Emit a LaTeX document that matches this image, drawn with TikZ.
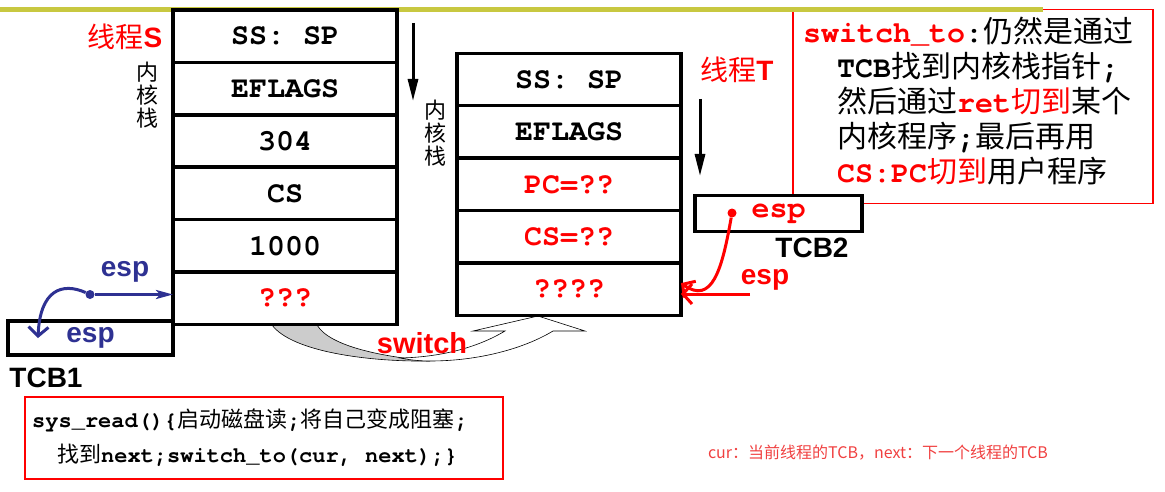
\documentclass[tikz,border=0pt]{standalone}
\usepackage{fontspec}
\setmainfont{Liberation Sans}
\setmonofont[Extension=.otf,UprightFont=*-regular,BoldFont=*-bold]{texgyrecursor}
\newfontfamily\cjk{Noto Sans CJK SC}
\usepackage{xcolor}
\usepackage{tikz}
\usetikzlibrary{arrows.meta,positioning}

\definecolor{barolive}{RGB}{200,200,64}
\definecolor{espblue}{RGB}{46,49,146}
\definecolor{notered}{RGB}{240,64,64}
\newcommand{\pxsize}[1]{\fontsize{#1}{#1}\selectfont}
\newcommand{\zh}[1]{{\cjk\mdseries #1}}

\begin{document}
\begin{tikzpicture}[
    x=1pt, y=-1pt,
    % 栈的每一格
    cell/.style={
        draw, line width=3.5pt, outer sep=0pt, inner sep=0pt,
        minimum width=224pt, minimum height=52.4pt,
        font=\pxsize{30}\ttfamily\bfseries},
    tcbbox/.style={
        draw, fill=white, line width=3.5pt, outer sep=0pt, inner sep=0pt,
        minimum width=166pt, minimum height=35pt},
    redframe/.style={draw=red, line width=1.3pt, inner sep=0pt},
    tcbname/.style={font=\pxsize{28}\bfseries},
    stacklabel/.style={align=center, font=\cjk\fontsize{22}{23}\selectfont},
    dot/.style={circle, fill, inner sep=0pt, minimum size=9pt},
    growth/.style={line width=3pt, -{Triangle[length=22pt,width=10pt]}},
    blueline/.style={espblue, line width=3pt},
    redline/.style={red, line width=3pt, -{Straight Barb[length=9pt,width=20pt]}}
  ]
  \useasboundingbox (0,0) rectangle (1165,492);

  % 右上角说明框
  \node (notebox) [redframe, minimum width=360pt, minimum height=194pt] at (973,106.5) {};
  \node (notetext) [anchor=north west, align=left, inner sep=0pt,
    font=\fontsize{30}{35}\selectfont] at (803,17) {%
    {\color{red}\ttfamily\bfseries switch\_to}{\ttfamily\bfseries :}\zh{仍然是通过}\\
    \hspace*{34pt}{\ttfamily\bfseries TCB}\zh{找到内核栈指针}{\ttfamily\bfseries ;}\\
    \hspace*{34pt}\zh{然后通过}{\color{red}\ttfamily\bfseries ret\zh{切到}}\zh{某个}\\
    \hspace*{34pt}\zh{内核程序}{\ttfamily\bfseries ;}\zh{最后再用}\\
    \hspace*{34pt}{\color{red}\ttfamily\bfseries CS:PC\zh{切到}}\zh{用户程序}};

  \coordinate (barL) at (0,10);
  \coordinate (barR) at (1043,10);
  \draw [barolive, line width=5pt] (barL) -- (barR);

  % switch 弯箭头
  \draw [black, line width=0.6pt, fill=black!20]
    (272,325) .. controls (292,352) and (370,362) .. (430,361)
    .. controls (385,357) and (330,347) .. (317,325) -- cycle;
  \draw [black, line width=0.6pt, fill=white]
    (430,361) .. controls (480,361) and (525,348) .. (553,331)
    -- (585,331) -- (538,316) -- (473,331) -- (505,331)
    .. controls (480,346) and (445,357) .. (400,358)
    .. controls (410,360) and (420,361) .. (430,361) -- cycle;
  \node (sw) [text=red, font=\pxsize{29}\bfseries] at (422,343) {switch};

  % 线程S的内核栈
  \node (s1) [cell] at (285,36.2) {SS: SP};
  \node (s2) [cell,below=0pt of s1] {EFLAGS};
  \node (s3) [cell,below=0pt of s2] {304};
  \node (s4) [cell,below=0pt of s3] {CS};
  \node (s5) [cell,below=0pt of s4] {1000};
  \node (s6) [cell,below=0pt of s5,text=red] {???};
  \node (nameS) [text=red, font=\pxsize{28}] at (125,37) {\zh{线程}\textbf{S}};
  \node (stackS) [stacklabel] at (147,95) {内\\核\\栈};
  \coordinate (downS1) at (413,23);
  \coordinate (downS2) at (413,101);
  \draw [growth] (downS1) -- (downS2);

  % 线程T的内核栈
  \node (t1) [cell] at (569,79.5) {SS: SP};
  \node (t2) [cell,below=0pt of t1] {EFLAGS};
  \node (t3) [cell,below=0pt of t2,text=red] {PC=??};
  \node (t4) [cell,below=0pt of t3,text=red] {CS=??};
  \node (t5) [cell,below=0pt of t4,text=red] {????};
  \node (nameT) [text=red, font=\pxsize{28}] at (737,70) {\zh{线程}\textbf{T}};
  \node (stackT) [stacklabel] at (435,133) {内\\核\\栈};
  \coordinate (downT1) at (700,99);
  \coordinate (downT2) at (700,176);
  \draw [growth] (downT1) -- (downT2);

  % TCB1
  \node (tcb1) [tcbbox, minimum width=165pt, minimum height=34pt, text=espblue,
    font=\pxsize{28}\bfseries] at (90.5,338) {esp};
  \node (tcb1name) [tcbname] at (46,378) {TCB1};
  \node (bdot) [dot, espblue] at (90,294.5) {};
  \node (bespS) [text=espblue, font=\pxsize{28}\bfseries] at (125,272) {esp};
  \coordinate (bend) at (38,338);
  \draw [blueline, -{Stealth[length=17pt,width=9pt,inset=4pt]}] (bdot) -- (bdot -| s6.west);
  \draw [blueline, -{Straight Barb[length=9pt,width=20pt]}]
    (bdot) .. controls (62,282) and (40,290) .. (bend);

  % TCB2
  \node (tcb2) [tcbbox, minimum width=167pt, minimum height=36pt, text=red,
    font=\pxsize{30}\ttfamily\bfseries] at (778.5,213.5) {esp};
  \node (tcb2name) [tcbname] at (812,248) {TCB2};
  \node (rdot) [dot, red] at (732,213) {};
  \node (respT) [text=red, font=\pxsize{28}\bfseries] at (765,280) {esp};
  \coordinate (rstart) at (750,294);
  \draw [redline] (rdot) .. controls (722,270) and (712,305) .. ([yshift=6pt]t5.east);
  \draw [redline] (rstart) -- (rstart -| t5.east);

  % 下方代码框
  \node (codebox) [redframe, minimum width=478pt, minimum height=82pt] at (264,438) {};
  \node (codetext) [anchor=north west, align=left, inner sep=0pt,
    font=\fontsize{22}{35}\selectfont\ttfamily\bfseries] at (32,409) {%
    sys\_read()\{\zh{启动磁盘读};\zh{将自己变成阻塞};\\
    \hspace*{25pt}\zh{找到}next;switch\_to(cur, next);\}};

  \node (remark) [text=notered, font=\cjk\fontsize{16}{16}\selectfont] at (878,453)
    {cur：当前线程的TCB，next：下一个线程的TCB};
\end{tikzpicture}
\end{document}
